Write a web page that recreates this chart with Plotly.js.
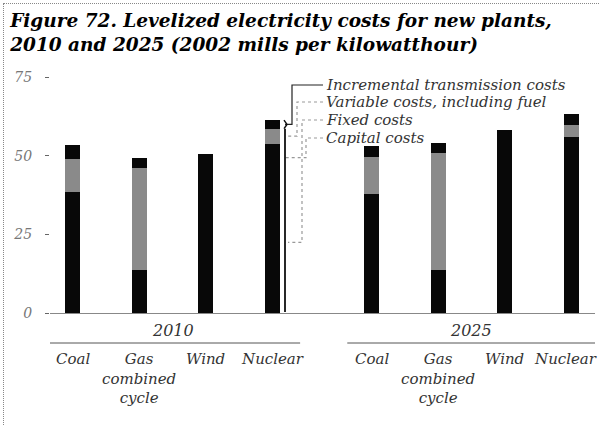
<!DOCTYPE html>
<html>
<head>
<meta charset="utf-8">
<script src="https://cdn.plot.ly/plotly-3.0.1.min.js"></script>
<style>
  html, body { margin: 0; padding: 0; background: #fff; }
  #wrap { position: relative; width: 599px; height: 425px; overflow: hidden; }
  #chart { position: absolute; left: 0; top: 0; width: 599px; height: 425px; }
  #frame { position: absolute; left: 3px; top: 3px; width: 596px; height: 422px;
           border-left: 1px dotted #888; border-top: 1px dotted #888; pointer-events: none; box-sizing: border-box; }
</style>
</head>
<body>
<div id="wrap"><div id="chart"></div><div id="frame"></div></div>
<script>
// ---- data (2002 mills per kilowatthour) ----
const years = ['2010', '2025'];
const technologies = ['Coal', 'Gas<br>combined<br>cycle', 'Wind', 'Nuclear'];
const seriesNames = ['Capital costs', 'Fixed costs', 'Variable costs, including fuel', 'Incremental transmission costs'];
// order of bars: 2010 Coal, Gas, Wind, Nuclear, 2025 Coal, Gas, Wind, Nuclear
const capitalCosts      = [33.0, 10.5, 41.0, 45.0, 32.5, 10.5, 48.0, 47.2];
const fixedCosts        = [ 5.5,  3.1,  7.5,  8.9,  5.5,  3.1,  8.4,  8.9];
const variableCosts     = [10.7, 32.5,  0.0,  4.8, 11.7, 37.4,  0.0,  3.7];
const transmissionCosts = [ 4.2,  3.4,  2.0,  2.7,  3.4,  3.1,  2.0,  3.5];
const yTicks = [0, 25, 50, 75];

// ---- positions ----
const groupGap = 0.5;
const xPos = [];
years.forEach((y, gi) => technologies.forEach((t, ci) => xPos.push(gi * (technologies.length + groupGap) + ci)));

const serif = 'DejaVu Serif, Liberation Serif, serif';
const barW = 0.226;
const seriesData = [capitalCosts, fixedCosts, variableCosts, transmissionCosts];
const seriesColors = ['#080808', '#080808', '#8a8a8a', '#080808'];
const traces = seriesData.map((vals, i) => ({
  type: 'bar', x: xPos, y: vals, name: seriesNames[i], width: barW,
  marker: { color: seriesColors[i], line: { width: 0 } },
  hoverinfo: 'name+y', showlegend: false
}));

// ---- pixel helpers for decorations (plot area: x 50..595, y 69..313) ----
const L = 50, R = 4, T = 69, B = 112, W = 599, H = 425;
const xMin = -0.346, xMax = 7.86, yMax = 77.7;
const pxPerX = (W - L - R) / (xMax - xMin);
const pxPerY = (H - T - B) / yMax;
const px2x = px => xMin + (px - L) / pxPerX;
const py2y = py => (H - B - py) / pxPerY;
const py2paper = py => (H - B - py) / (H - T - B);

// annotations: year labels + category labels
const annotations = [];
const shapes = [];
years.forEach((yr, gi) => {
  const first = xPos[gi * technologies.length];
  const last = xPos[gi * technologies.length + technologies.length - 1];
  annotations.push({ x: (first + last) / 2, y: py2paper(342), xref: 'x', yref: 'paper', yanchor: 'bottom',
    text: '<i>' + yr + '</i>', showarrow: false, font: { family: serif, size: 16, color: '#333' } });
  shapes.push({ type: 'line', xref: 'x', yref: 'paper', x0: first - 0.37, x1: last + 0.42,
    y0: py2paper(343), y1: py2paper(343), line: { color: '#555', width: 1 } });
  technologies.forEach((t, ci) => {
    const isLastOverall = gi === years.length - 1 && ci === technologies.length - 1;
    annotations.push({ x: xPos[gi * technologies.length + ci], y: py2paper(348), xref: 'x', yref: 'paper', yanchor: 'top',
      text: '<i>' + t + '</i>', showarrow: false, align: 'center', xshift: isLastOverall ? -6 : 0,
      font: { family: serif, size: 15, color: '#333' } });
  });
});

// legend labels with leader lines to 2010 nuclear bar
const ni = 3;
const cum1 = capitalCosts[ni], cum2 = cum1 + fixedCosts[ni], cum3 = cum2 + variableCosts[ni], cum4 = cum3 + transmissionCosts[ni];
const mids = { cap: cum1 / 2, fix: (cum1 + cum2) / 2, vari: (cum2 + cum3) / 2, tr: (cum3 + cum4) / 2 };
const legendRows = [
  { name: seriesNames[3], ty: 85,  elbow: 292, end: 285, target: mids.tr,   color: '#222' },
  { name: seriesNames[2], ty: 102, elbow: 297, end: 286, target: mids.vari, color: '#999' },
  { name: seriesNames[1], ty: 120, elbow: 302, end: 288, target: mids.cap,  color: '#999' },
  { name: seriesNames[0], ty: 138, elbow: 306, end: 285, target: mids.fix,  color: '#999' }
];
legendRows.forEach(r => {
  const ty = py2y(r.ty);
  annotations.push({ x: px2x(324), y: ty, xref: 'x', yref: 'y', xanchor: 'left', yanchor: 'middle',
    text: '<i>' + r.name + '</i>', showarrow: false, font: { family: serif, size: 15, color: '#333' } });
  shapes.push({ type: 'path', xref: 'x', yref: 'y',
    path: `M ${px2x(323)} ${ty} L ${px2x(r.elbow)} ${ty} L ${px2x(r.elbow)} ${r.target} L ${px2x(r.end)} ${r.target}`,
    line: { color: r.color, width: 1.2, dash: r.color === '#222' ? 'solid' : 'dot' } });
});
// brace along the nuclear bar
shapes.push({ type: 'line', xref: 'x', yref: 'y', x0: px2x(285), x1: px2x(285), y0: 0.3, y1: cum3,
  line: { color: '#111', width: 1.8 } });
shapes.push({ type: 'path', xref: 'x', yref: 'y',
  path: `M ${px2x(284)} ${cum4} L ${px2x(287)} ${mids.tr} L ${px2x(284)} ${cum3}`,
  line: { color: '#111', width: 1.5 } });

const layout = {
  width: W, height: H,
  margin: { l: L, r: R, t: T, b: B },
  paper_bgcolor: '#fff', plot_bgcolor: '#fff',
  barmode: 'stack',
  title: {
    text: '<b><i>Figure 72. Levelized electricity costs for new plants,<br>2010 and 2025 (2002 mills per kilowatthour)</i></b>',
    x: 0.017, xanchor: 'left', xref: 'container', y: 0.936, yanchor: 'top', yref: 'container',
    font: { family: serif, size: 18.5, color: '#000', weight: 'bold', style: 'italic' }
  },
  xaxis: { range: [xMin, xMax], showticklabels: false, ticks: '', showgrid: false, zeroline: false,
    showline: true, linecolor: '#888', linewidth: 1, fixedrange: true },
  yaxis: { range: [0, yMax], tickvals: yTicks, ticktext: yTicks.map(v => '<i>' + v + '</i>'),
    ticks: 'outside', ticklen: 4, tickcolor: '#666', ticklabelstandoff: 10, showgrid: false, zeroline: false, showline: false,
    tickfont: { family: serif, size: 14, color: '#777' }, fixedrange: true },
  annotations: annotations,
  shapes: shapes,
  bargap: 0
};
Plotly.newPlot('chart', traces, layout, { displayModeBar: false, staticPlot: true });
</script>
</body>
</html>
